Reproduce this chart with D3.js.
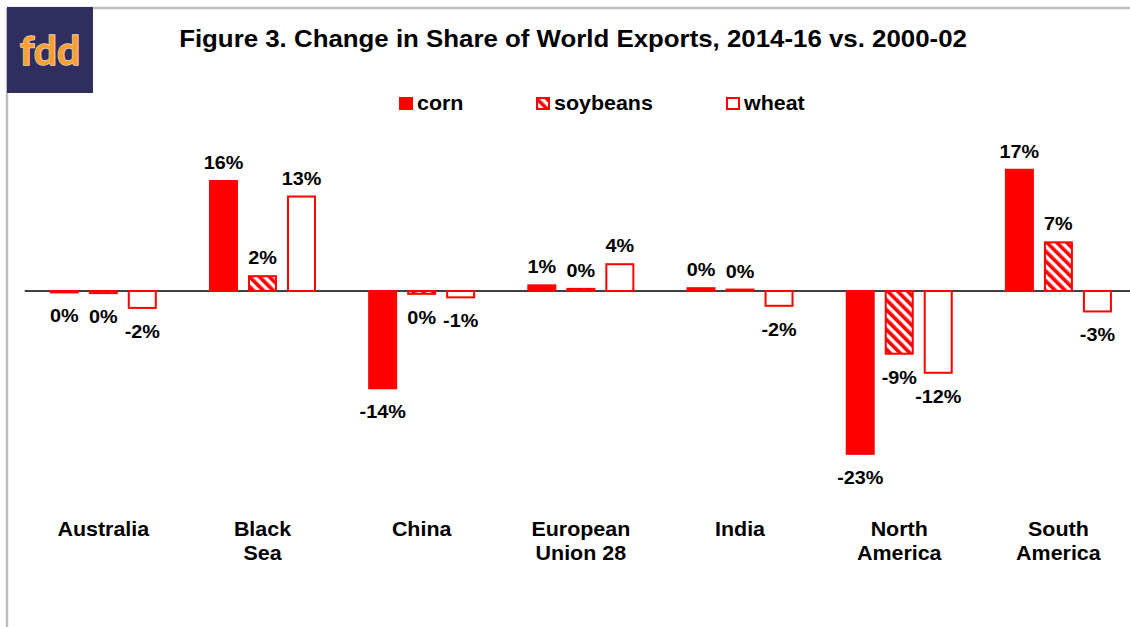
<!DOCTYPE html>
<html>
<head>
<meta charset="utf-8">
<script src="https://cdn.jsdelivr.net/npm/d3@7"></script>
<style>
  html, body { margin: 0; padding: 0; background: #fff; }
  svg { display: block; font-family: "Liberation Sans", Arial, sans-serif; }
</style>
</head>
<body>
<svg id="chart"></svg>
<script>
// данные
const regions = [["Australia"], ["Black", "Sea"], ["China"], ["European", "Union 28"], ["India"], ["North", "America"], ["South", "America"]];
const series = ["corn", "soybeans", "wheat"];
const corn = [-0.2, 15.6, -13.8, 0.8, 0.4, -23.1, 17.2];
const soybeans = [-0.3, 2.1, -0.4, 0.3, 0.2, -8.9, 6.9];
const wheat = [-2.4, 13.4, -0.9, 3.8, -2.1, -11.6, -2.9];
const title = "Figure 3. Change in Share of World Exports, 2014-16 vs. 2000-02";

const width = 1130;
const height = 627;
const stretch = 1.1; // текст в оригинале немного растянут по горизонтали
const red = "#ff0000";

let svg = d3.select("#chart").attr("width", width).attr("height", height);

let defs = svg.append("defs");
let pat = defs.append("pattern")
    .attr("id", "hatch")
    .attr("patternUnits", "userSpaceOnUse")
    .attr("width", 7)
    .attr("height", 7)
    .attr("patternTransform", "rotate(-45)");
pat.append("rect").attr("width", 7).attr("height", 7).attr("fill", "#fff");
pat.append("rect").attr("width", 3.6).attr("height", 7).attr("fill", red);

let fills = { corn: red, soybeans: "url(#hatch)", wheat: "#fff" };

// рамка
svg.append("line").attr("x1", 7).attr("x2", width).attr("y1", 8).attr("y2", 8)
    .attr("stroke", "#bfbfbf").attr("stroke-width", 2.5);
svg.append("line").attr("x1", 7).attr("x2", 7).attr("y1", 8).attr("y2", height)
    .attr("stroke", "#bfbfbf").attr("stroke-width", 2.5);

// логотип
svg.append("rect").attr("x", 7).attr("y", 7).attr("width", 86).attr("height", 86).attr("fill", "#302e5e");
svg.append("text")
    .attr("x", 50).attr("y", 65)
    .attr("text-anchor", "middle")
    .style("font-family", "Lato, 'DejaVu Sans', sans-serif")
    .style("font-weight", "bold")
    .style("font-size", "41px")
    .attr("fill", "#f9a031")
    .attr("stroke", "#e8d8c8")
    .attr("stroke-width", 1.5)
    .attr("paint-order", "stroke")
    .text("fdd");

let stretchedText = (x, y, str, size, anchor) => {
    return svg.append("text")
        .attr("transform", `translate(${x},${y}) scale(${stretch},1)`)
        .attr("text-anchor", anchor || "middle")
        .style("font-weight", "bold")
        .style("font-size", size + "px")
        .attr("fill", "#000")
        .text(str);
};

stretchedText(573, 47, title, 23.5);

// шкалы
let scaleX = d3.scaleBand()
    .domain(regions.map(d => d.join(" ")))
    .range([23.7, 1138]);
let groupW = 117;
let scaleSub = d3.scaleBand()
    .domain(series)
    .range([0, groupW])
    .paddingInner(12 / 39)
    .paddingOuter(6 / 39);
let scaleY = d3.scaleLinear()
    .domain([-25, 20])
    .range([291 + 25 * 7.05, 291 - 20 * 7.05]);

let data = [];
regions.forEach((r, i) => {
    let name = r.join(" ");
    data.push({ region: name, key: "corn", value: corn[i] });
    data.push({ region: name, key: "soybeans", value: soybeans[i] });
    data.push({ region: name, key: "wheat", value: wheat[i] });
});

let barX = d => scaleX(d.region) + (scaleX.bandwidth() - groupW) / 2 + scaleSub(d.key);

// нулевая линия
svg.append("line")
    .attr("x1", scaleX.range()[0] + 1).attr("x2", width)
    .attr("y1", scaleY(0)).attr("y2", scaleY(0))
    .attr("stroke", "#000").attr("stroke-width", 1.5);

svg.selectAll(".bar")
    .data(data)
    .enter()
    .append("rect")
    .attr("class", "bar")
    .attr("x", d => barX(d))
    .attr("y", d => Math.min(scaleY(d.value), scaleY(0)))
    .attr("width", scaleSub.bandwidth())
    .attr("height", d => Math.abs(scaleY(d.value) - scaleY(0)))
    .attr("fill", d => fills[d.key])
    .attr("stroke", red)
    .attr("stroke-width", 2);

// подписи значений
data.forEach(d => {
    let x = barX(d) + scaleSub.bandwidth() / 2;
    let y = d.value >= 0 ? scaleY(d.value) - 12 : scaleY(d.value) + 30;
    stretchedText(x, y, `${Math.round(d.value) || 0}%`, 18);
});

// подписи категорий
regions.forEach(r => {
    let cx = scaleX(r.join(" ")) + scaleX.bandwidth() / 2;
    r.forEach((line, k) => {
        stretchedText(cx, 536 + k * 24, line, 19.5);
    });
});

// легенда
let legendX = [400, 537, 727];
series.forEach((s, i) => {
    svg.append("rect")
        .attr("x", legendX[i]).attr("y", 98)
        .attr("width", 12).attr("height", 11)
        .attr("fill", fills[s])
        .attr("stroke", red).attr("stroke-width", 2);
    stretchedText(legendX[i] + 17, 110, s, 19.5, "start");
});
</script>
</body>
</html>
